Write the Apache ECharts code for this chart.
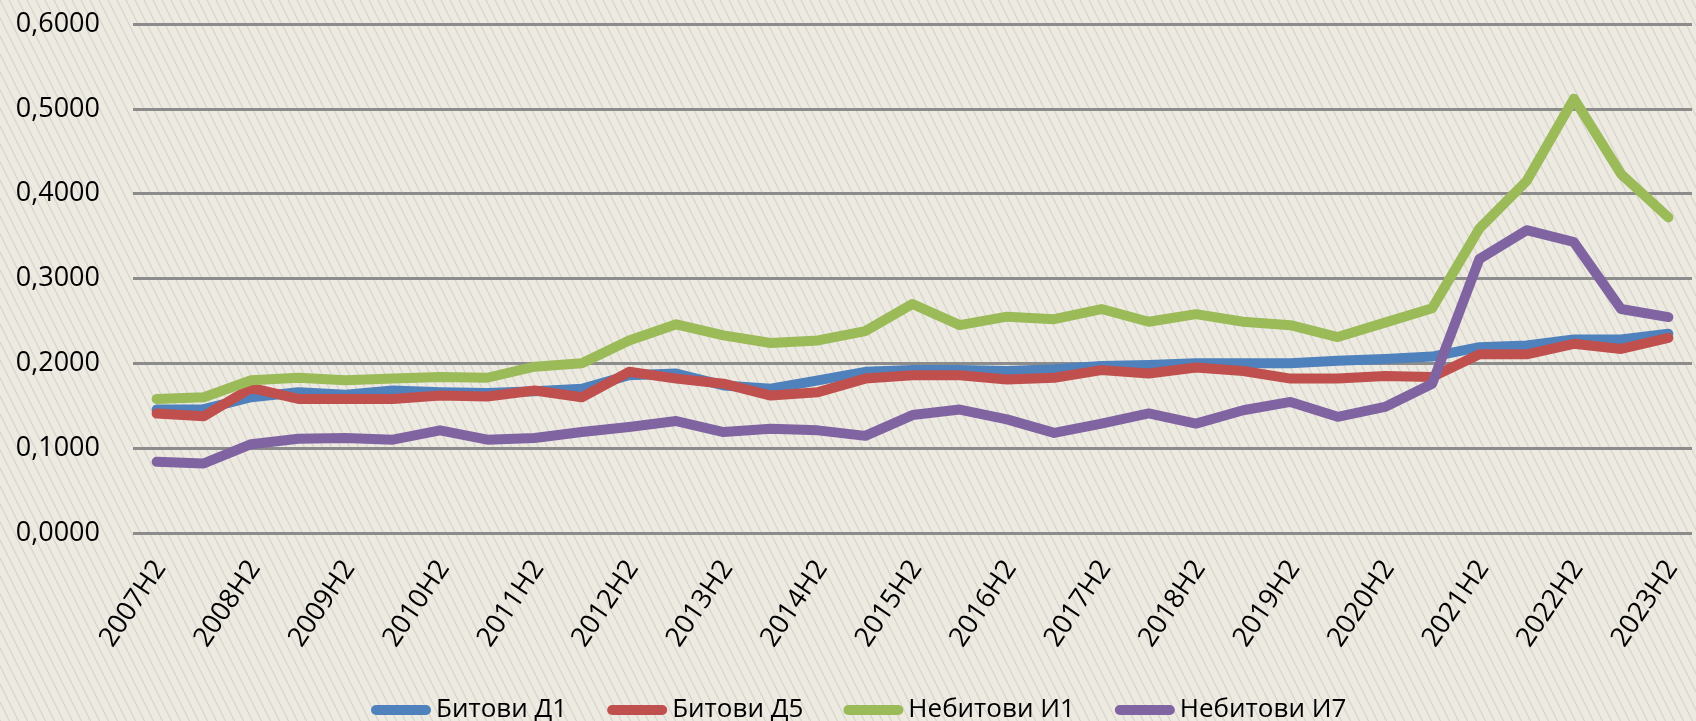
<!DOCTYPE html>
<html>
<head>
<meta charset="utf-8">
<script src="https://cdn.jsdelivr.net/npm/echarts@6/dist/echarts.min.js"></script>
<style>
html,body{margin:0;padding:0;background:#EDEAE2;}
#chart{width:1696px;height:721px;}
</style>
</head>
<body>
<div id="chart"></div>
<script>
const categories = [
  '2007H2','2008H1','2008H2','2009H1','2009H2','2010H1','2010H2','2011H1','2011H2',
  '2012H1','2012H2','2013H1','2013H2','2014H1','2014H2','2015H1','2015H2',
  '2016H1','2016H2','2017H1','2017H2','2018H1','2018H2','2019H1','2019H2',
  '2020H1','2020H2','2021H1','2021H2','2022H1','2022H2','2023H1','2023H2'
];
const seriesNames = ['Битови Д1','Битови Д5','Небитови И1','Небитови И7'];
const bitoviD1 = [0.1455,0.146,0.160,0.166,0.163,0.168,0.166,0.165,0.167,0.170,0.186,0.188,0.174,0.170,0.180,0.190,0.192,0.192,0.191,0.193,0.197,0.198,0.200,0.200,0.200,0.203,0.205,0.208,0.219,0.221,0.228,0.228,0.235];
const bitoviD5 = [0.1408,0.1376,0.171,0.158,0.158,0.158,0.162,0.161,0.168,0.160,0.190,0.182,0.176,0.162,0.166,0.182,0.186,0.186,0.181,0.183,0.192,0.188,0.195,0.191,0.182,0.182,0.185,0.184,0.2106,0.2106,0.223,0.217,0.230];
const nebitoviI1 = [0.158,0.160,0.180,0.183,0.180,0.182,0.184,0.183,0.196,0.200,0.227,0.246,0.233,0.224,0.227,0.238,0.270,0.245,0.255,0.252,0.264,0.249,0.258,0.249,0.245,0.231,0.248,0.265,0.359,0.415,0.512,0.423,0.372];
const nebitoviI7 = [0.0839,0.082,0.1047,0.111,0.112,0.110,0.121,0.110,0.112,0.119,0.125,0.132,0.119,0.123,0.121,0.1145,0.139,0.1455,0.134,0.118,0.129,0.141,0.129,0.1447,0.1545,0.137,0.1486,0.176,0.323,0.357,0.343,0.264,0.2545];
const yTicks = {min:0, max:0.6, interval:0.1};

const colors = ['#4F81BD','#C0504D','#9BBB59','#8064A2'];
const values = [bitoviD1, bitoviD5, nebitoviI1, nebitoviI7];

// hatched background pattern
const tile = document.createElement('canvas');
tile.width = 9; tile.height = 18;
const g = tile.getContext('2d');
g.fillStyle = '#EDEAE2';
g.fillRect(0,0,9,18);
g.strokeStyle = '#DAD6CC';
g.lineWidth = 1.4;
[-9,0,9].forEach(function(o){
  g.beginPath(); g.moveTo(o,0); g.lineTo(o+9,18); g.stroke();
});

const FONT = '"Open Sans", "Noto Sans", sans-serif';
const chart = echarts.init(document.getElementById('chart'), null, {renderer:'canvas'});
chart.setOption({
  backgroundColor: {image: tile, repeat: 'repeat'},
  animation: false,
  color: colors,
  grid: {left:133, right:4, top:24, bottom:188, containLabel:false},
  legend: {
    bottom: -7, left: 366,
    itemWidth: 60, itemHeight: 10, itemGap: 40,
    icon: 'path://M5,0 H55 A5,5 0 0 1 55,10 H5 A5,5 0 0 1 5,0 Z',
    textStyle: {fontFamily: FONT, fontSize: 26, color: '#000'},
    data: seriesNames
  },
  xAxis: {
    type: 'category',
    data: categories,
    boundaryGap: true,
    axisLine: {show:false},
    axisTick: {show:false},
    axisLabel: {
      interval: 1, rotate: 56, margin: 28,
      verticalAlign: 'top', lineHeight: 9,
      fontFamily: FONT, fontSize: 27, color: '#000'
    }
  },
  yAxis: {
    type: 'value',
    min: yTicks.min, max: yTicks.max, interval: yTicks.interval,
    axisLine: {show:false},
    axisTick: {show:false},
    splitLine: {lineStyle: {color:'#8C8C8C', width:3}},
    axisLabel: {
      margin: 33, fontFamily: FONT, fontSize: 27, color: '#000',
      formatter: function(v){ return v.toFixed(4).replace('.', ','); }
    }
  },
  series: values.map(function(arr, i){
    return {
      name: seriesNames[i],
      type: 'line',
      data: arr,
      symbol: 'none',
      smooth: false,
      lineStyle: {width: 10, cap: 'round', join: 'round', color: colors[i]},
      itemStyle: {color: colors[i]}
    };
  })
});
</script>
</body>
</html>
